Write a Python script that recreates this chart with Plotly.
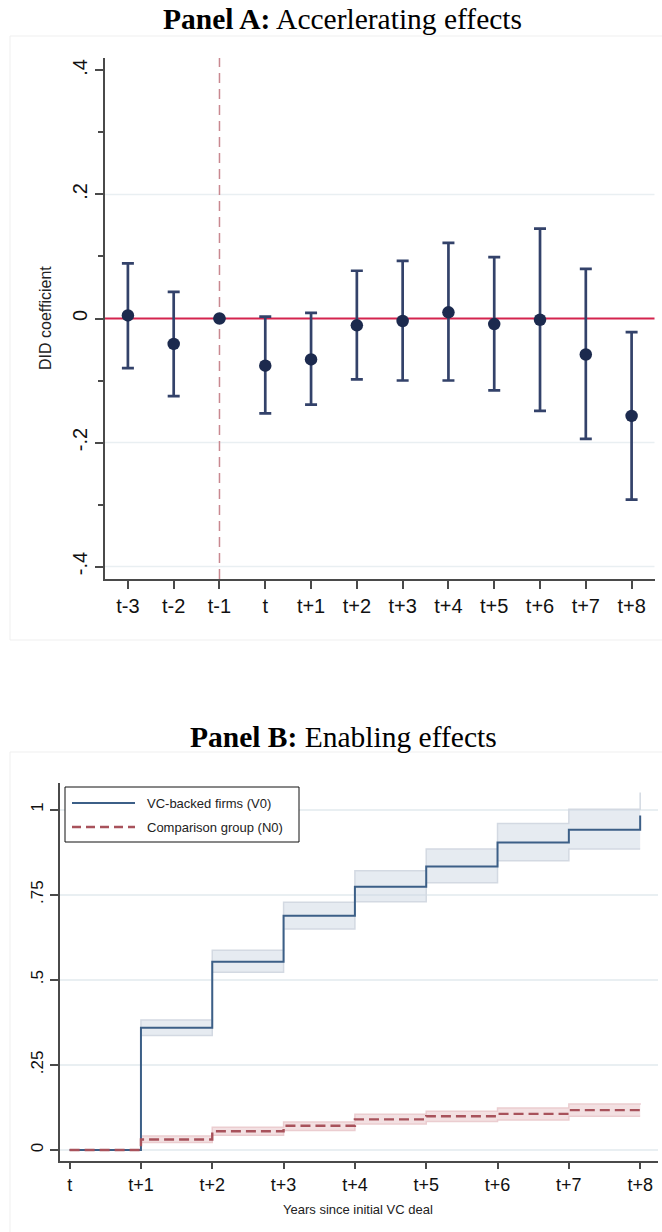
import plotly.graph_objects as go

# ---------------- data ----------------
CATS_A = ["t-3", "t-2", "t-1", "t", "t+1", "t+2", "t+3", "t+4", "t+5", "t+6", "t+7", "t+8"]
COEF = [0.005, -0.041, 0.0, -0.076, -0.066, -0.011, -0.004, 0.010, -0.009, -0.002, -0.058, -0.157]
CI_LO = [-0.080, -0.125, None, -0.153, -0.139, -0.098, -0.100, -0.100, -0.116, -0.149, -0.194, -0.292]
CI_HI = [0.089, 0.043, None, 0.003, 0.009, 0.077, 0.093, 0.122, 0.099, 0.145, 0.080, -0.022]
YTICKS_A = [-0.4, -0.2, 0, 0.2, 0.4]
YLABELS_A = ["-.4", "-.2", "0", ".2", ".4"]
YMINOR_A = [-0.3, -0.1, 0.1, 0.3]

CATS_B = ["t", "t+1", "t+2", "t+3", "t+4", "t+5", "t+6", "t+7", "t+8"]
VC = [0.0, 0.359, 0.553, 0.688, 0.773, 0.833, 0.903, 0.941, 0.983]
VC_LO = [0.0, 0.336, 0.522, 0.649, 0.729, 0.785, 0.850, 0.884, 0.884]
VC_HI = [0.0, 0.382, 0.587, 0.728, 0.820, 0.884, 0.959, 1.001, 1.050]
N0 = [0.0, 0.031, 0.055, 0.071, 0.090, 0.099, 0.106, 0.117, 0.118]
N0_LO = [0.0, 0.022, 0.043, 0.057, 0.076, 0.084, 0.088, 0.099, 0.099]
N0_HI = [0.0, 0.041, 0.067, 0.082, 0.105, 0.114, 0.123, 0.135, 0.137]
YTICKS_B = [0, 0.25, 0.5, 0.75, 1]
YLABELS_B = ["0", ".25", ".5", ".75", "1"]

# ---------------- helpers ----------------
W, H = 662, 1232
def px(x):
    return x / W
def py(y):
    return 1 - y / H

SANS = "Liberation Sans, Arial, sans-serif"
SERIF = "Liberation Serif, Times New Roman, serif"
AXC = "#4a4a4a"

xa = list(range(len(CATS_A)))
xb = list(range(len(CATS_B)))
err_hi = [None if h is None else h - c for h, c in zip(CI_HI, COEF)]
err_lo = [None if l is None else c - l for l, c in zip(CI_LO, COEF)]

fig = go.Figure()

# Panel A: coefficients with CIs
fig.add_trace(go.Scatter(
    x=xa, y=COEF, mode="markers", xaxis="x", yaxis="y",
    marker=dict(size=12.5, color="#1c2a4e"),
    error_y=dict(type="data", symmetric=False, array=err_hi, arrayminus=err_lo,
                 color="#33426a", thickness=2.7, width=6),
    showlegend=False, hoverinfo="skip"))

# Panel B: bands
fig.add_trace(go.Scatter(x=xb, y=VC_HI, mode="lines", line=dict(shape="hv", color="#d3d9e2", width=1.5),
                         xaxis="x2", yaxis="y2", showlegend=False, hoverinfo="skip"))
fig.add_trace(go.Scatter(x=xb, y=VC_LO, mode="lines", line=dict(shape="hv", color="#d3d9e2", width=1.5),
                         fill="tonexty", fillcolor="rgba(200,210,224,0.45)",
                         xaxis="x2", yaxis="y2", showlegend=False, hoverinfo="skip"))
fig.add_trace(go.Scatter(x=xb, y=N0_HI, mode="lines", line=dict(shape="hv", color="#ebcdd0", width=1.5),
                         xaxis="x2", yaxis="y2", showlegend=False, hoverinfo="skip"))
fig.add_trace(go.Scatter(x=xb, y=N0_LO, mode="lines", line=dict(shape="hv", color="#ebcdd0", width=1.5),
                         fill="tonexty", fillcolor="rgba(226,178,182,0.40)",
                         xaxis="x2", yaxis="y2", showlegend=False, hoverinfo="skip"))
# Panel B: lines
fig.add_trace(go.Scatter(x=xb, y=VC, mode="lines", line=dict(shape="hv", color="#3c5f87", width=2),
                         xaxis="x2", yaxis="y2", showlegend=False, hoverinfo="skip"))
fig.add_trace(go.Scatter(x=xb, y=N0, mode="lines", line=dict(shape="hv", color="#a8525b", width=2.4, dash="10px,5px"),
                         xaxis="x2", yaxis="y2", showlegend=False, hoverinfo="skip"))

axis_common = dict(showline=True, linecolor=AXC, linewidth=1.5, ticks="outside", tickcolor=AXC,
                   tickwidth=1.5, zeroline=False, mirror=False)

fig.update_layout(
    width=W, height=H, margin=dict(l=0, r=0, t=0, b=0),
    paper_bgcolor="white", plot_bgcolor="white", showlegend=False,
    xaxis=dict(domain=[px(105), px(654.5)], range=[-0.5, 11.5], tickvals=xa, ticktext=CATS_A,
               ticklen=8, showgrid=False, anchor="y", tickfont=dict(family=SANS, size=20, color="#111"),
               **axis_common),
    yaxis=dict(domain=[py(579), py(58)], range=[-0.42, 0.42], tickvals=YTICKS_A, ticktext=YLABELS_A,
               tickangle=-90, ticklen=8, showgrid=False, anchor="x",
               minor=dict(tickvals=YMINOR_A, ticks="outside", ticklen=5, tickcolor=AXC, tickwidth=1.5, showgrid=False),
               tickfont=dict(family=SANS, size=20, color="#111"), **axis_common),
    xaxis2=dict(domain=[px(60), px(658)], range=[-0.135, 8.25], tickvals=xb, ticktext=CATS_B,
                ticklen=7, showgrid=False, anchor="y2", tickfont=dict(family=SANS, size=18, color="#111"),
                **axis_common),
    yaxis2=dict(domain=[py(1160.7), py(782.7)], range=[-0.0315, 1.079], tickvals=YTICKS_B, ticktext=YLABELS_B,
                tickangle=-90, ticklen=8, showgrid=True, gridcolor="#e9eff2", gridwidth=1.5, anchor="x2",
                tickfont=dict(family=SANS, size=17, color="#111"), **axis_common),
)

shapes = []
# outer graph-region frames
shapes.append(dict(type="rect", xref="paper", yref="paper", x0=px(10), x1=px(663), y0=py(640), y1=py(36),
                   line=dict(color="#efefef", width=1), fillcolor="rgba(0,0,0,0)", layer="below"))
shapes.append(dict(type="rect", xref="paper", yref="paper", x0=px(10), x1=px(663), y0=py(1240), y1=py(752),
                   line=dict(color="#efefef", width=1), fillcolor="rgba(0,0,0,0)", layer="below"))
# Panel A gridlines (not at the axis maximum)
for v in YTICKS_A:
    if v < max(YTICKS_A) and v != 0:
        shapes.append(dict(type="line", xref="x domain", yref="y", x0=0, x1=1, y0=v, y1=v,
                           line=dict(color="#e9eff2", width=1.5), layer="below"))
# zero reference line
shapes.append(dict(type="line", xref="x domain", yref="y", x0=0, x1=1, y0=0, y1=0,
                   line=dict(color="#d4244e", width=2), layer="below"))
# vertical reference at t-1
shapes.append(dict(type="line", xref="x", yref="y domain", x0=CATS_A.index("t-1"), x1=CATS_A.index("t-1"),
                   y0=0, y1=1, line=dict(color="#c98890", width=1.5, dash="10px,6px"), layer="below"))
# manual legend
shapes.append(dict(type="rect", xref="paper", yref="paper", x0=px(65), x1=px(299), y0=py(842), y1=py(787),
                   line=dict(color="#111", width=1), fillcolor="white", layer="above"))
shapes.append(dict(type="line", xref="paper", yref="paper", x0=px(72), x1=px(135), y0=py(803), y1=py(803),
                   line=dict(color="#3c5f87", width=2), layer="above"))
shapes.append(dict(type="line", xref="paper", yref="paper", x0=px(72), x1=px(135), y0=py(827), y1=py(827),
                   line=dict(color="#a8525b", width=2.4, dash="9px,5px"), layer="above"))
fig.update_layout(shapes=shapes)

ann = []
ann.append(dict(text="<b>Panel A:</b> Accerlerating effects", xref="paper", yref="paper",
                x=px(342), y=py(19), showarrow=False, xanchor="center", yanchor="middle",
                font=dict(family=SERIF, size=29.5, color="#000")))
ann.append(dict(text="<b>Panel B:</b> Enabling effects", xref="paper", yref="paper",
                x=px(343), y=py(737), showarrow=False, xanchor="center", yanchor="middle",
                font=dict(family=SERIF, size=29.5, color="#000")))
ann.append(dict(text="DID coefficient", xref="paper", yref="paper", x=px(45), y=py(318), textangle=-90,
                showarrow=False, xanchor="center", yanchor="middle",
                font=dict(family=SANS, size=16, color="#222")))
ann.append(dict(text="Years since initial VC deal", xref="paper", yref="paper", x=px(358), y=py(1209),
                showarrow=False, xanchor="center", yanchor="middle",
                font=dict(family=SANS, size=13, color="#222")))
ann.append(dict(text="VC-backed firms (V0)", xref="paper", yref="paper", x=px(145), y=py(803),
                showarrow=False, xanchor="left", yanchor="middle",
                font=dict(family=SANS, size=13, color="#222")))
ann.append(dict(text="Comparison group (N0)", xref="paper", yref="paper", x=px(145), y=py(827),
                showarrow=False, xanchor="left", yanchor="middle",
                font=dict(family=SANS, size=13, color="#222")))
fig.update_layout(annotations=ann)

fig.write_html("out.html")
